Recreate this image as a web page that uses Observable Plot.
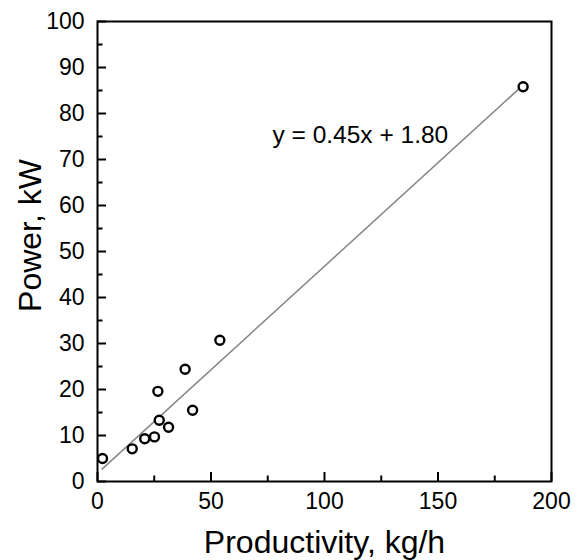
<!DOCTYPE html>
<html>
<head>
<meta charset="utf-8">
<script src="https://cdn.jsdelivr.net/npm/d3@7"></script>
<script src="https://cdn.jsdelivr.net/npm/@observablehq/plot@0.6"></script>
<style>
  html, body { margin: 0; padding: 0; background: #fff; }
  svg { font-family: "Liberation Sans", Arial, sans-serif; }
</style>
</head>
<body>
<div id="chart"></div>
<script>
// Data
const productivity = [2.2, 15.3, 20.8, 25.1, 27.2, 31.3, 26.6, 38.6, 41.9, 53.9, 187.5];
const power        = [5.0, 7.1, 9.3, 9.7, 13.3, 11.8, 19.6, 24.4, 15.5, 30.7, 85.8];

// Fitted line as stated on the chart
const slope = 0.45;
const intercept = 1.80;
const fitRange = [2, 187];
const equationLabel = ["y = 0.45x + 1.80"];
const equationPos = { x: 77.1, y: 75.2 };

// Axis ticks and labels
const xDomain = [0, 200];
const yDomain = [0, 100];
const xMajorTicks = [0, 50, 100, 150, 200];
const xMinorTicks = [25, 75, 125, 175];
const yMajorTicks = [0, 10, 20, 30, 40, 50, 60, 70, 80, 90, 100];
const yMinorTicks = [5, 15, 25, 35, 45, 55, 65, 75, 85, 95];
const xLabel = "Productivity, kg/h";
const yLabel = "Power, kW";

const points = productivity.map((x, i) => ({ x, y: power[i] }));
const fitLine = fitRange.map(x => ({ x, y: slope * x + intercept }));

const font = "Liberation Sans, Arial, sans-serif";

const W = 585, H = 560, mL = 97, mR = 34, mT = 21, mB = 79;
// convert pixel tick lengths into data units of the other axis
const xUnitsPerPx = (xDomain[1] - xDomain[0]) / (W - mL - mR);
const yUnitsPerPx = (yDomain[1] - yDomain[0]) / (H - mT - mB);

const xTicks = (values, len) => Plot.ruleX(values, {
  x: d => d, y1: yDomain[0], y2: yDomain[0] + len * yUnitsPerPx,
  stroke: "black", strokeWidth: 2
});
const yTicks = (values, len) => Plot.ruleY(values, {
  y: d => d, x1: xDomain[0], x2: xDomain[0] + len * xUnitsPerPx,
  stroke: "black", strokeWidth: 2
});

const chart = Plot.plot({
  width: W,
  height: H,
  marginLeft: mL,
  marginRight: mR,
  marginTop: mT,
  marginBottom: mB,
  style: { fontFamily: font, background: "white", color: "black" },
  x: { domain: xDomain, axis: null },
  y: { domain: yDomain, axis: null },
  marks: [
    // inward ticks
    xTicks(xMajorTicks, 9),
    xTicks(xMinorTicks, 5.5),
    yTicks(yMajorTicks, 9),
    yTicks(yMinorTicks, 5.5),
    // tick labels
    Plot.text(xMajorTicks, { x: d => d, frameAnchor: "bottom", textAnchor: "middle", lineAnchor: "top", dy: 11, fontSize: 23, fill: "black", text: d => String(d) }),
    Plot.text(yMajorTicks, { y: d => d, frameAnchor: "left", textAnchor: "end", lineAnchor: "middle", dx: -13, fontSize: 23, fill: "black", text: d => String(d) }),
    // axis titles
    Plot.text([xLabel], { frameAnchor: "bottom", textAnchor: "middle", lineAnchor: "middle", dy: 61, fontSize: 32, fill: "black", text: d => d }),
    Plot.text([yLabel], { frameAnchor: "left", textAnchor: "middle", lineAnchor: "middle", dx: -67, dy: -16, rotate: -90, fontSize: 32, fill: "black", text: d => d }),
    // fit line
    Plot.line(fitLine, { x: "x", y: "y", stroke: "#858585", strokeWidth: 1.5 }),
    // points
    Plot.dot(points, { x: "x", y: "y", r: 4.5, stroke: "black", strokeWidth: 2.4, fill: "white" }),
    // equation
    Plot.text(equationLabel, { x: () => equationPos.x, y: () => equationPos.y, text: d => d, textAnchor: "start", fontSize: 24.5, fill: "black" }),
    Plot.frame({ stroke: "black", strokeWidth: 2 })
  ]
});

document.getElementById("chart").appendChild(chart);
</script>
</body>
</html>
